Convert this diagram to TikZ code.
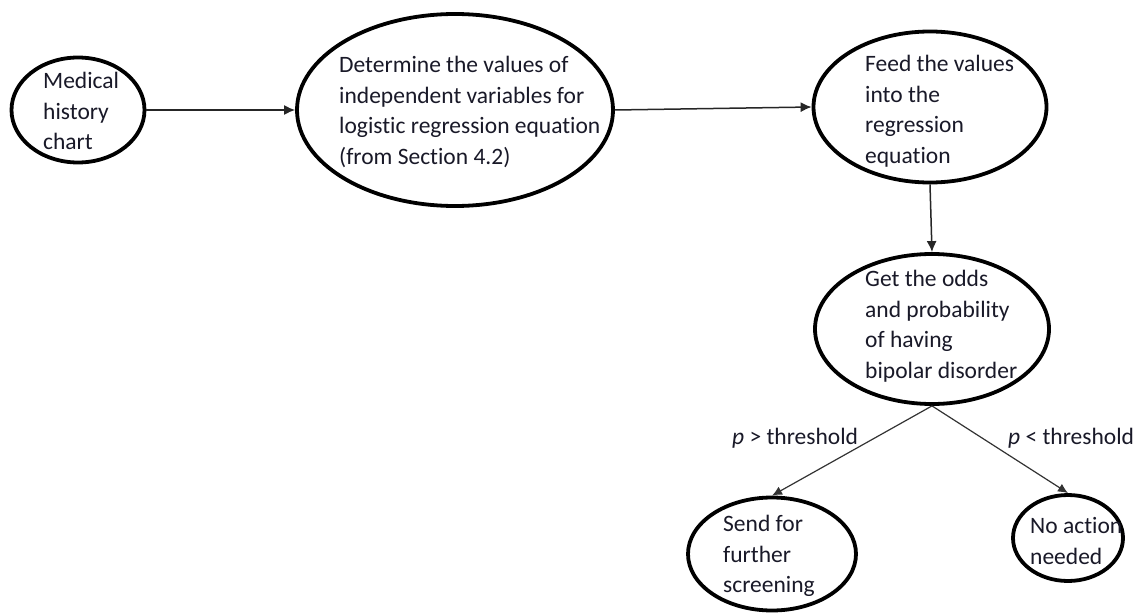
\documentclass[tikz,border=0pt]{standalone}
\usepackage{fontspec}
\setmainfont{Carlito}[Ligatures=NoCommon]
\usetikzlibrary{arrows.meta,shapes.geometric}
\definecolor{txt}{RGB}{25,25,40}
\tikzset{
  oval/.style={draw=black, line width=3.8pt, ellipse, inner sep=0pt},
  lbl/.style={anchor=west, align=left, inner sep=0pt, text=txt,
    font=\fontsize{23.5}{30.5}\selectfont},
  conn/.style={draw=black!85, line width=1.5pt, -{Latex[length=11pt,width=10pt]}},
  branch/.style={draw=black!80, line width=1.2pt, -{Latex[length=10pt,width=9pt]}}
}
\begin{document}
\begin{tikzpicture}[x=1pt,y=-1pt]
\useasboundingbox[fill=white] (0,0) rectangle (1136,613);
% ellipses
\node[oval, minimum width=133pt, minimum height=105pt] (med) at (78,110) {};
\node[oval, minimum width=316pt, minimum height=192pt] (det) at (455,110) {};
\node[oval, minimum width=233pt, minimum height=151pt] (feed) at (930,107) {};
\node[oval, minimum width=234pt, minimum height=150pt] (get) at (932,329) {};
\node[oval, minimum width=168pt, minimum height=113pt] (send) at (772,554) {};
\node[oval, minimum width=110pt, minimum height=86pt] (none) at (1068,538) {};
% texts
\node[lbl] (tmed) at (43,111) {Medical\\history\\chart};
\node[lbl] (tdet) at (339,112) {Determine the values of\\independent variables for\\logistic regression equation\\(from Section 4.2)};
\node[lbl] (tfeed) at (865,111) {Feed the values\\into the\\regression\\equation};
\node[lbl] (tget) at (865,326) {Get the odds\\and probability\\of having\\bipolar disorder};
\node[lbl] (tsend) at (723,556) {Send for\\further\\screening};
\node[lbl] (tnone) at (1030,541) {No action\\needed};
% connectors
\draw[conn] (med.east) -- (det.west);
\draw[conn] (det.east) -- (feed.west);
\draw[conn] (feed.south) -- (get.north);
\draw[branch] (get.south) -- (send.north);
\draw[branch] (get.south) -- (none.north);
% branch labels
\node[lbl] (lgt) at (732,438) {\textit{p} > threshold};
\node[lbl] (llt) at (1008,438) {\textit{p} < threshold};
\end{tikzpicture}
\end{document}
